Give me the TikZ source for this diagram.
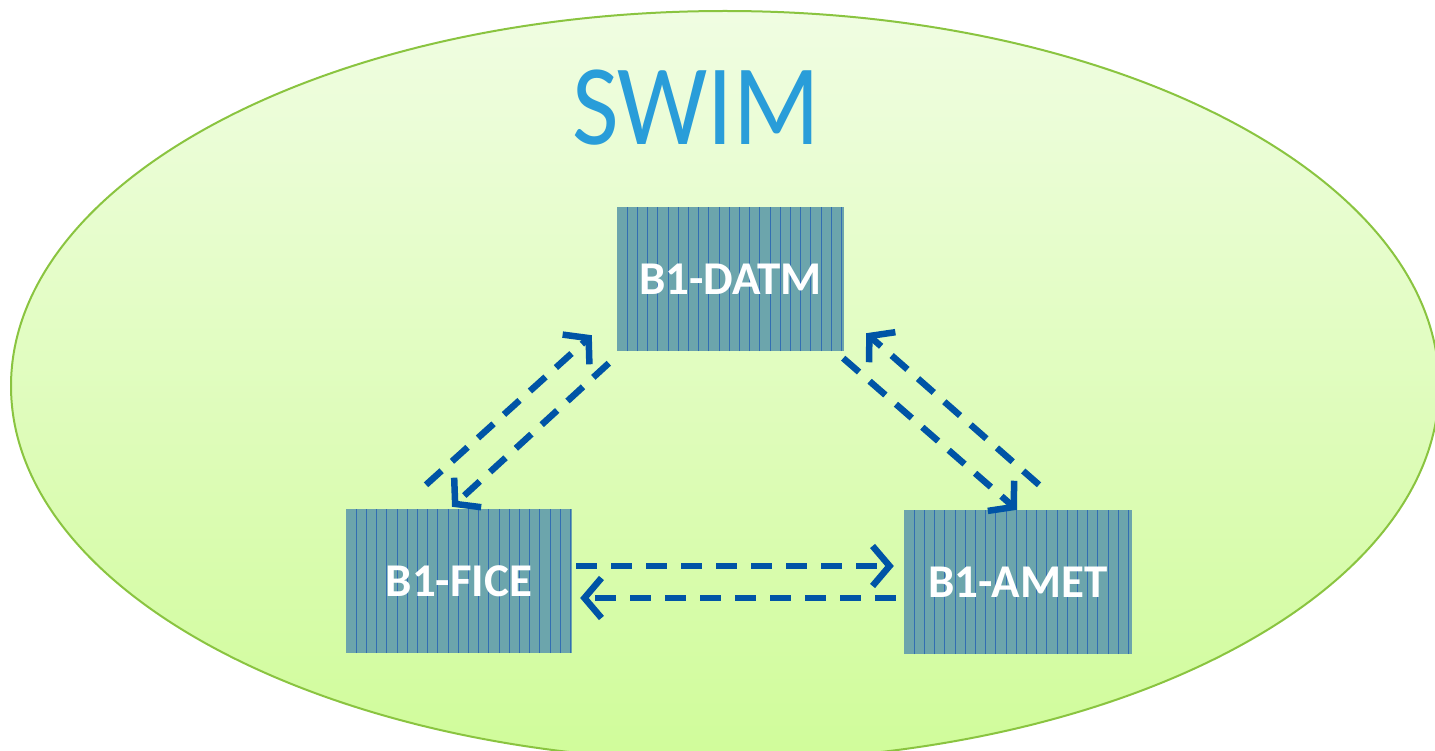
\documentclass[tikz,border=0pt]{standalone}
\usepackage{fontspec}
\setmainfont{Carlito}
\usetikzlibrary{arrows.meta,calc}
\definecolor{elltop}{RGB}{240,253,226}
\definecolor{ellbot}{RGB}{208,252,154}
\definecolor{ellline}{RGB}{138,196,64}
\definecolor{swimblue}{RGB}{41,157,217}
\definecolor{boxfill}{RGB}{108,165,172}
\definecolor{boxline}{RGB}{50,110,178}
\definecolor{arrowblue}{RGB}{0,84,166}
\tikzset{
  modbox/.style={draw=none, fill=boxfill, minimum width=#1, minimum height=144pt,
    inner sep=0pt, text=white, font=\fontsize{47}{52}\selectfont\bfseries,
    path picture={\foreach \i in {1,...,22}{
      \draw[boxline, line width=0.9pt]
        ([xshift=\i*10.2pt]path picture bounding box.south west) --
        ([xshift=\i*10.2pt]path picture bounding box.north west);}}},
  flow/.style={draw=arrowblue, line width=6.5pt, dash pattern=on 21pt off 14pt,
    -{Straight Barb[length=17pt,width=40pt,line width=6.5pt]}}
}
\begin{document}
\begin{tikzpicture}[x=1pt,y=-1pt]
\useasboundingbox (0,0) rectangle (1435,751);
\path[top color=elltop, bottom color=ellbot, draw=ellline, line width=2pt]
  (725,386) ellipse [x radius=714, y radius=375];
\node[text=swimblue, font=\fontsize{115}{120}\selectfont] (swim) at (696,108) {\scalebox{0.88}[1]{SWIM}};
\node[modbox=227pt] (datm) at (730.5,279) {B1-DATM};
\node[modbox=226pt] (fice) at (459,581) {B1-FICE};
\node[modbox=228pt] (amet) at (1018,582) {B1-AMET};
\draw[flow] ($(fice.north)+(-33,-24)$) -- ($(datm.south west)+(-25,-16)$);
\draw[flow] ($(datm.south west)+(-8,12)$) -- ($(fice.north)+(-7,-2)$);
\draw[flow] ($(datm.south east)+(-1,7)$) -- ($(amet.north)+(-1,0)$);
\draw[flow] ($(amet.north)+(21,-25)$) -- ($(datm.south east)+(22,-18)$);
\draw[flow] ($(fice.east)+(4,-15)$) -- ($(amet.west)+(-10,-16)$);
\draw[flow] ($(amet.west)+(-8,16)$) -- ($(fice.east)+(8,17)$);
\end{tikzpicture}
\end{document}
